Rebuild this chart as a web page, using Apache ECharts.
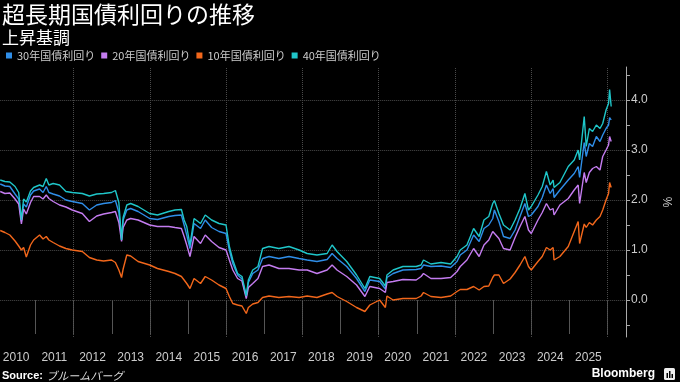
<!DOCTYPE html>
<html><head><meta charset="utf-8">
<script src="https://cdn.jsdelivr.net/npm/echarts@6/dist/echarts.min.js"></script>
<style>html,body{margin:0;padding:0;background:#000;}#c{width:680px;height:382px;}</style>
</head><body><div id="c"></div>
<script>
const dates = ['2010-01-29','2010-03-15','2010-05-01','2010-06-20','2010-07-25','2010-08-20','2010-09-10','2010-10-06','2010-11-15','2010-12-15',
'2011-02-10','2011-03-15','2011-04-15','2011-05-10','2011-06-20','2011-08-20','2011-10-20','2011-12-20',
'2012-03-25','2012-06-01','2012-08-10','2012-10-15','2012-12-30',
'2013-02-05','2013-03-10','2013-04-05','2013-04-20','2013-05-25','2013-07-01','2013-09-10','2013-12-30',
'2014-03-15','2014-07-01','2014-08-30','2014-10-30','2014-11-25','2014-12-20',
'2015-01-20','2015-02-28','2015-05-01','2015-06-15','2015-08-15','2015-10-25','2015-12-31',
'2016-02-01','2016-03-05','2016-04-20','2016-06-01','2016-07-12','2016-08-01','2016-09-12','2016-11-01','2016-12-15',
'2017-02-15','2017-05-20','2017-08-25','2017-11-30',
'2018-02-15','2018-05-20','2018-08-25','2018-10-12','2018-11-28',
'2019-03-01','2019-06-03','2019-08-22','2019-10-08',
'2020-01-10','2020-03-05','2020-03-20','2020-05-18','2020-08-20','2020-12-25',
'2021-02-10','2021-03-05','2021-05-15','2021-08-20','2021-11-20',
'2022-01-20','2022-02-20','2022-04-25','2022-06-28','2022-08-20','2022-10-05','2022-11-20','2022-12-28',
'2023-01-13','2023-02-25','2023-04-10','2023-06-12','2023-07-30','2023-09-15','2023-11-01','2023-12-05',
'2024-01-01','2024-03-05','2024-04-15','2024-05-25','2024-06-30','2024-07-28','2024-08-06','2024-10-01','2024-12-20',
'2025-02-15','2025-03-25','2025-04-08','2025-05-22','2025-06-10','2025-07-10','2025-08-10','2025-09-15','2025-10-20','2025-11-15','2025-12-17',
'2026-01-10','2026-01-20','2026-02-04'];

const jgb10 = [1.39,1.35,1.30,1.18,1.08,1.00,1.05,0.86,1.10,1.20,
1.30,1.22,1.27,1.20,1.15,1.08,1.03,1.00,
0.97,0.85,0.80,0.78,0.80,
0.75,0.60,0.45,0.62,0.90,0.88,0.77,0.70,
0.63,0.57,0.53,0.47,0.40,0.33,
0.23,0.43,0.33,0.47,0.40,0.30,0.23,
0.07,-0.07,-0.10,-0.12,-0.27,-0.15,-0.08,-0.05,0.05,
0.08,0.05,0.07,0.05,
0.08,0.05,0.12,0.15,0.07,
-0.03,-0.15,-0.23,-0.10,
0.00,-0.15,0.08,0.00,0.03,0.03,
0.08,0.15,0.07,0.05,0.08,
0.17,0.21,0.21,0.27,0.20,0.27,0.28,0.45,
0.50,0.50,0.33,0.42,0.55,0.70,0.87,0.67,
0.60,0.77,0.87,1.05,1.00,1.05,0.80,0.87,1.07,
1.37,1.57,1.13,1.52,1.45,1.55,1.50,1.60,1.67,1.80,2.00,
2.13,2.35,2.25];

const jgb20 = [2.17,2.13,2.14,2.02,1.92,1.52,1.82,1.72,1.95,2.07,
2.07,2.02,2.10,2.03,1.97,1.90,1.86,1.80,
1.73,1.57,1.68,1.72,1.75,
1.77,1.55,1.17,1.45,1.60,1.63,1.60,1.50,
1.47,1.47,1.45,1.43,1.27,1.10,
0.87,1.27,1.13,1.30,1.17,1.05,1.00,
0.80,0.60,0.43,0.38,0.03,0.25,0.33,0.43,0.67,
0.70,0.63,0.63,0.60,
0.60,0.53,0.60,0.70,0.60,
0.47,0.30,0.07,0.27,
0.23,0.15,0.35,0.37,0.41,0.40,
0.47,0.53,0.43,0.43,0.45,
0.57,0.67,0.80,1.03,0.87,1.10,1.20,1.37,
1.41,1.23,1.03,1.00,1.25,1.47,1.67,1.40,
1.33,1.60,1.75,1.93,1.80,1.83,1.70,1.90,2.03,
2.20,2.30,1.93,2.55,2.35,2.55,2.63,2.67,2.60,2.87,3.00,
3.10,3.27,3.17];

const jgb30 = [2.32,2.28,2.27,2.12,2.02,1.57,1.92,1.86,2.10,2.18,
2.22,2.15,2.27,2.15,2.12,2.08,2.00,1.97,
1.93,1.80,1.90,1.93,1.95,
1.99,1.75,1.20,1.60,1.80,1.83,1.77,1.63,
1.61,1.67,1.69,1.70,1.50,1.30,
1.03,1.53,1.43,1.60,1.45,1.37,1.33,
1.00,0.73,0.50,0.42,0.07,0.35,0.53,0.60,0.83,
0.87,0.83,0.87,0.83,
0.80,0.77,0.81,0.93,0.83,
0.67,0.43,0.17,0.40,
0.37,0.22,0.45,0.53,0.60,0.61,
0.63,0.70,0.67,0.68,0.65,
0.77,0.90,1.00,1.30,1.17,1.43,1.50,1.63,
1.80,1.57,1.27,1.23,1.40,1.67,1.93,1.67,
1.70,1.87,2.05,2.30,2.13,2.23,2.05,2.20,2.40,
2.53,2.67,2.45,3.15,2.87,3.13,3.07,3.27,3.17,3.30,3.43,
3.50,3.65,3.60];

const jgb40 = [2.40,2.37,2.36,2.27,2.15,1.60,2.02,1.96,2.18,2.25,
2.30,2.27,2.43,2.30,2.33,2.30,2.17,2.15,
2.13,2.08,2.12,2.13,2.15,
2.19,1.95,1.20,1.65,1.90,1.93,1.87,1.73,
1.70,1.77,1.80,1.81,1.60,1.47,
1.10,1.63,1.53,1.70,1.60,1.53,1.50,
1.07,0.80,0.53,0.47,0.08,0.40,0.60,0.67,1.03,
1.07,1.03,1.07,1.00,
0.93,0.90,0.93,1.10,0.97,
0.77,0.50,0.23,0.47,
0.43,0.28,0.50,0.60,0.67,0.67,
0.70,0.80,0.72,0.75,0.72,
0.87,1.00,1.10,1.43,1.27,1.60,1.67,1.93,
1.99,1.73,1.50,1.40,1.60,1.83,2.13,1.80,
1.87,2.10,2.27,2.57,2.30,2.40,2.25,2.35,2.67,
2.80,3.00,2.80,3.67,3.07,3.43,3.37,3.50,3.43,3.53,3.80,
3.93,4.21,3.87];

const seriesNames = ['30年国債利回り','20年国債利回り','10年国債利回り','40年国債利回り'];
const seriesValues = [jgb30, jgb20, jgb10, jgb40];
const seriesColors = ['#2f8ee8','#c47cf0','#f2671b','#1fc6c9'];
const yTickValues = [-0.5,0,0.5,1,1.5,2,2.5,3,3.5,4,4.5];
const yLabelValues = [0,1,2,3,4];
const yGridValues = [0,1,2,3,4];
const yearLabels = [2010,2011,2012,2013,2014,2015,2016,2017,2018,2019,2020,2021,2022,2023,2024,2025];
const yearStarts = [2011,2012,2013,2014,2015,2016,2017,2018,2019,2020,2021,2022,2023,2024,2025,2026];
const gridYears = [2012,2014,2016,2018,2020,2022,2024,2026];

const ts = s => { const p = s.split('-').map(Number); return Date.UTC(p[0], p[1]-1, p[2]); };
const chart = echarts.init(document.getElementById('c'), null, {renderer:'canvas'});
const FONT = "'Liberation Sans', 'Noto Sans CJK JP', sans-serif";

const series = seriesNames.map((name, k) => {
  const s = {
    name, type:'line', showSymbol:false, symbol:'none', animation:false,
    color: seriesColors[k],
    lineStyle:{width:1.4, color: seriesColors[k]},
    emphasis:{disabled:true},
    data: dates.map((d,i)=>[ts(d), seriesValues[k][i]])
  };
  if (k === 0) {
    s.markLine = {
      silent:true, symbol:'none', z:1, animation:false,
      label:{show:false},
      lineStyle:{color:'#4a4a4a', type:'dotted', width:1},
      emphasis:{disabled:true},
      data: yGridValues.map(v=>({yAxis:v})).concat(gridYears.map(y=>({xAxis:Date.UTC(y,0,1)})))
    };
  }
  return s;
});

chart.setOption({
  backgroundColor:'#000',
  animation:false,
  textStyle:{fontFamily:FONT},
  title:{
    text:'超長期国債利回りの推移', subtext:'上昇基調',
    left:2, top:3, padding:0, itemGap:3,
    textStyle:{color:'#fff', fontSize:23, fontWeight:'normal', fontFamily:'Noto Sans CJK JP'},
    subtextStyle:{color:'#fff', fontSize:17, fontFamily:'Noto Sans CJK JP'}
  },
  legend:{
    left:6, top:50, itemWidth:6, itemHeight:6, itemGap:6, icon:'rect',
    padding:0,
    textStyle:{color:'#ccc', fontSize:11, fontFamily:'Noto Sans CJK JP'},
    data: seriesNames
  },
  grid:{left:0, right:48, top:67, bottom:45, containLabel:false},
  xAxis:{
    type:'value', min:ts('2010-01-29'), max:ts('2026-06-26'),
    axisLine:{show:false},
    axisTick:{show:true, customValues: yearStarts.map(y=>Date.UTC(y,0,1)), length:34, lineStyle:{color:'#555'}},
    axisLabel:{customValues: yearLabels.map(y=>Date.UTC(y,6,1)), formatter: v=>String(new Date(v).getUTCFullYear()),
      color:'#ccc', fontSize:12, margin:15, hideOverlap:false, showMinLabel:true, showMaxLabel:true},
    splitLine:{show:false}
  },
  yAxis:{
    type:'value', position:'right', min:-0.74, max:4.66,
    axisLine:{show:true, lineStyle:{color:'#aaa'}},
    axisTick:{show:true, customValues: yTickValues, length:4, lineStyle:{color:'#aaa'}},
    axisLabel:{customValues: yLabelValues, formatter: v=>Number(v).toFixed(1), color:'#ccc', fontSize:12, margin:5},
    splitLine:{show:false},
    name:'%', nameLocation:'middle', nameGap:34, nameRotate:-90,
    nameTextStyle:{color:'#ccc', fontSize:12}
  },
  series,
  graphic:[
    {type:'text', left:2, top:370, style:{
      text:'{b|Source:} {i|ブルームバーグ}',
      rich:{ b:{fill:'#fff', fontWeight:'bold', fontSize:11, fontFamily:FONT},
             i:{fill:'#ddd', fontStyle:'italic', fontSize:11, fontFamily:'Noto Sans CJK JP'} }
    }},
    {type:'text', right:25, top:368, style:{text:'Bloomberg', fill:'#fff', fontWeight:'bold', fontSize:12, fontFamily:FONT}},
    {type:'rect', left:664, top:368, shape:{width:11, height:12, r:1.5}, style:{fill:'#eee'}},
    {type:'rect', left:666.5, top:373, shape:{width:1.5, height:5}, style:{fill:'#000'}},
    {type:'rect', left:669, top:371, shape:{width:1.5, height:7}, style:{fill:'#000'}},
    {type:'rect', left:671.5, top:374, shape:{width:1.5, height:4}, style:{fill:'#000'}}
  ]
});
</script></body></html>
